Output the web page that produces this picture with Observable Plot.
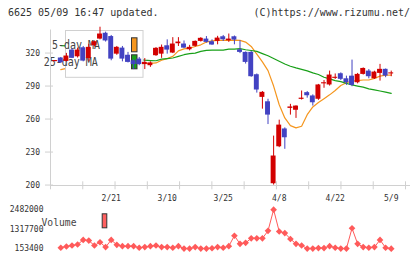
<!DOCTYPE html>
<html><head><meta charset="utf-8">
<script src="https://cdn.jsdelivr.net/npm/d3@7"></script>
<script src="https://cdn.jsdelivr.net/npm/@observablehq/plot@0.6"></script>
<style>
html,body{margin:0;padding:0;background:#fff;}
#wrap{position:relative;width:420px;height:259px;overflow:hidden;font-family:"DejaVu Sans Mono",monospace;}
.t{position:absolute;top:8px;font-size:10px;line-height:10px;color:#333;white-space:nowrap;}
#price{position:absolute;left:0;top:20px;}
#vol{position:absolute;left:0;top:205px;}
</style></head><body>
<div id="wrap">
<div class="t" style="left:8px">6625 05/09 16:47 updated.</div>
<div class="t" style="right:10px">(C)https://www.rizumu.net/</div>
<div id="price"></div><div id="vol"></div>
</div>
<script>
// trading days
const dates = ["2/6","2/7","2/10","2/12","2/13","2/14","2/17","2/18","2/19","2/20","2/21",
"2/25","2/26","2/27","2/28","3/3","3/4","3/5","3/6","3/7","3/10",
"3/11","3/12","3/13","3/14","3/17","3/18","3/19","3/21","3/24","3/25",
"3/26","3/27","3/28","3/31","4/1","4/2","4/3","4/4","4/7","4/8",
"4/9","4/10","4/11","4/14","4/15","4/16","4/17","4/18","4/21","4/22",
"4/23","4/24","4/25","4/28","4/30","5/1","5/2","5/7","5/8","5/9"];
const open  = [312.2,315.5,312.4,322.7,316.6,324.8,315,326.6,332.7,338,335,
319,324.5,318,313,314.5,309.5,308.5,317.6,319,326.6,
320,328.5,328.2,323,326.1,330.6,332.7,330.3,330.6,334.8,
331.2,334.8,323,320.6,320.6,300.3,279.7,275.7,201.2,234.8,
251,269.7,268,277.9,284,281,278,292,291,297,
301.2,296.6,299,293,300.6,303.6,296.6,301.5,305.2,301];
const high  = [313.2,316,319.7,324,324.5,326,328,331,343.5,339,336,
326,326,320.6,314,316,315,312,325,327.3,332,
334,334,331,327,331,334,335,332,335.2,336,
337.3,335.5,331.2,321,321.5,301,285,278,244.5,259,
252,273.4,272,285.5,285,282,291.5,295,303.6,301,
302,299,313.6,301.5,306.5,305,303.5,309.7,305.5,303.6];
const low   = [312.2,310.5,312,315,315.5,312,312,325.5,332,330,313,
318,312,311,305,308.5,305,307,317,315.2,319,
319.5,326,324,322,325.5,330,329,327,327.5,330.5,
329.7,327.5,319.5,310,298,283.6,269,255,200,234,
232.5,263.6,260.6,277.3,279,271.8,277,288,290,296,
295,290.6,289.4,292,300,296.6,296,294.5,297.6,298.5];
const close = [313.2,311.2,317.3,315.2,322.7,312.7,325.2,330.3,337.3,331,314.5,
325.2,314.5,311.5,309.5,309.5,311.5,311,324.3,325.2,322.7,
328.2,330,324.5,325.2,330.6,333.4,329.7,327.3,333.6,332.1,
332.7,331.8,320.6,311.5,298.5,286.4,284.3,263.6,226.4,254.5,
243,271,271.8,279,281.2,274.8,291,293,300,298,
296.1,293,290.6,300.6,306,298.5,302.7,305.2,299.1,302];
const ma5   = [null,305,306,309,312,315.8,318.6,321.2,325.6,326.3,327.7,
327.6,324.5,319.4,315,314.1,310.6,310.6,311,313.5,315,
317,322,323.8,324.5,326,327.5,330,331,331.5,331.5,
331.5,331.8,331.5,330,326,319,312,304,290,273,
261,254,252,253.5,264,271,275,278.5,282,286,
290.5,293,294.5,295,295.5,295.5,297,299,300,300];
const ma25  = [null,326.8,326.5,325.8,325,324.2,323.4,322.6,321.8,321,320.2,
319.4,318.6,317.8,317,314,313.5,313.2,313,314.5,315,
315.5,317,318.5,319.5,320,321.5,322.5,322.7,322.7,322.7,
323.5,323.6,324,323,322.3,321.5,319.5,317.5,315,312.5,
310,308,306.5,305.2,303.8,302,300.5,298,296.5,295,
294,292.5,291,290,289,287.5,286.5,285.5,284.5,283.4];
const volume = [null,211600,287000,345000,404000,677000,637000,345000,540000,248000,677000,
386000,305000,305000,305000,212000,248000,305000,345000,248000,248000,
212000,305000,160000,160000,248000,160000,160000,180000,248000,212000,
305000,927000,444000,502000,770000,770000,770000,1219000,2482000,1180000,
1085000,735000,444000,345000,160000,160000,190000,190000,305000,212000,
160000,160000,1376000,444000,248000,212000,248000,677000,212000,153400];
const tickLabels = ["2/21","3/10","3/25","4/8","4/22","5/9"];
const priceTicks = [200,230,260,290,320];
const volumeTicks = [153400,1317700,2482000];

const rows = dates.map((d,i)=>({i,d,o:open[i],h:high[i],l:low[i],c:close[i],m5:ma5[i],m25:ma25[i],v:volume[i]}));
const RED="#d20000", BLUE="#4242c2", ORANGE="#f5961e", GREEN="#19a019", PINK="#ff5a5a";
const col = d => d.c >= d.o ? RED : BLUE;
const xDomain=[-0.84, 62.55];
const yDomain=[199.6, 345.05];
const xGrid = d3.range(12).map(k => xDomain[0] + k*(xDomain[1]-xDomain[0])/11);
const labelIdx = tickLabels.map(t => dates.indexOf(t));
const FONT = "DejaVu Sans Mono, monospace";

function priceLegend(){
  const g = d3.create("svg:g").attr("font-family",FONT).attr("font-size",12).attr("fill","#444");
  g.append("rect").attr("x",65.5).attr("y",10.5).attr("width",77.5).attr("height",46.8).attr("fill","#fff").attr("stroke","#d0d0d0");
  g.append("text").attr("x",76).attr("y",28.8).attr("textLength",48).attr("lengthAdjust","spacingAndGlyphs").text("5-day MA");
  g.append("text").attr("x",70.7).attr("y",46).attr("textLength",54).attr("lengthAdjust","spacingAndGlyphs").text("25-day MA");
  g.append("rect").attr("x",131.5).attr("y",17.8).attr("width",5.5).attr("height",14).attr("fill",ORANGE).attr("stroke","#333");
  g.append("rect").attr("x",131.5).attr("y",34.8).attr("width",5.5).attr("height",14).attr("fill",GREEN).attr("stroke","#333");
  return g.node();
}
function volLegend(){
  const g = d3.create("svg:g").attr("font-family",FONT).attr("font-size",11).attr("fill","#444");
  g.append("text").attr("x",59).attr("y",20.6).attr("textLength",35).attr("lengthAdjust","spacingAndGlyphs").text("Volume");
  g.append("rect").attr("x",102.2).attr("y",8.8).attr("width",4.6).attr("height",14).attr("fill","#ff6060").attr("stroke","#333");
  return g.node();
}

const price = Plot.plot({
  width:420, height:185, marginLeft:50, marginRight:15, marginTop:5, marginBottom:20,
  x:{domain:xDomain, label:null}, y:{domain:yDomain, label:null},
  style:{background:"none", fontFamily:FONT, fontSize:"8px", overflow:"visible"},
  marks:[
    Plot.line(rows,{x:"i",y:"m5",stroke:ORANGE,strokeWidth:1.2}),
    Plot.line(rows,{x:"i",y:"m25",stroke:GREEN,strokeWidth:1.2}),
    priceLegend,
    Plot.ruleX(rows,{x:"i",y1:"l",y2:"h",stroke:col,strokeWidth:1}),
    Plot.rect(rows,{x1:d=>d.i-0.44,x2:d=>d.i+0.44,y1:"o",y2:"c",fill:col}),
    Plot.ruleX([xDomain[0]],{y1:yDomain[0],y2:yDomain[1],stroke:"#d0d0d0",insetBottom:-4.5}),
    Plot.ruleY([yDomain[0]],{stroke:"#d0d0d0",insetRight:-5}),
    Plot.axisY(priceTicks,{tickSize:8,dx:3,stroke:"#d0d0d0",tickFormat:()=>"",label:null}),
    Plot.axisY(priceTicks,{tickSize:0,tickPadding:10.5,fill:"#333",fontSize:8,label:null}),
    Plot.axisX(xGrid,{tickSize:8,dy:-3.7,stroke:"#d0d0d0",tickFormat:()=>"",label:null}),
    Plot.axisX(labelIdx,{tickSize:0,tickPadding:10,fill:"#333",fontSize:8,tickFormat:i=>dates[i],label:null})
  ]
});
document.getElementById("price").append(price);

const vol = Plot.plot({
  width:420, height:54, marginLeft:50, marginRight:15, marginTop:4.2, marginBottom:10.8,
  x:{domain:xDomain, axis:null, label:null}, y:{domain:[153400,2482000], label:null},
  style:{background:"none", fontFamily:FONT, fontSize:"8px", overflow:"visible"},
  marks:[
    Plot.line(rows,{x:"i",y:"v",stroke:PINK,strokeWidth:1}),
    Plot.dot(rows,{x:"i",y:"v",symbol:"diamond2",r:3,fill:PINK}),
    Plot.axisY(volumeTicks,{tickSize:0,tickPadding:7,fill:"#333",fontSize:8,tickFormat:d=>String(d),label:null}),
    volLegend
  ]
});
document.getElementById("vol").append(vol);
</script>
</body></html>
